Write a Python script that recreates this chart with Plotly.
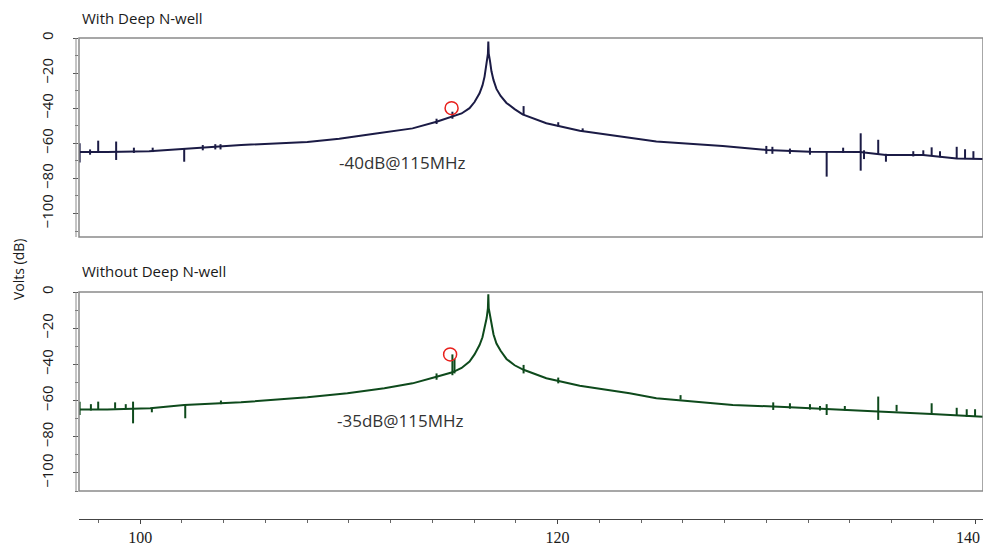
import plotly.graph_objects as go

# ---------------- data ----------------
# Top panel: With Deep N-well  (frequency MHz, level dB)
top_f = [97.07, 98.42, 100.43, 102.11, 104.84, 108.01, 109.54, 111.22, 112.18, 113.05,
         114.2, 114.96, 115.4, 115.78, 116.02, 116.26, 116.4, 116.5, 116.6, 116.66,
         116.68, 116.70, 116.76, 116.83, 116.93, 117.07, 117.27, 117.55, 117.94, 118.32,
         119.46, 121.06, 123.45, 124.73, 127.91, 130.01, 132.09, 134.48,
         135.73, 137.51, 139.12, 140.38]
top_db = [-65, -65, -64.5, -63.2, -61, -59.2, -57.4, -54.5, -53, -51.5,
          -47.7, -45, -43, -40, -36.5, -31.5, -27, -22, -14, -9,
          -2, -9, -13, -19, -24, -29, -33, -37, -40.5, -43.5,
          -48.6, -52.8, -56.8, -59, -61.5, -63.8, -64.8, -65,
          -66.7, -66.7, -68.6, -69]
# spurs: frequency, low end, high end (dB)
top_spur_f = [97.1, 97.6, 97.99, 98.85, 99.7, 100.6, 102.11, 103.0, 103.6, 103.85,
              114.2, 114.96, 118.37, 120.03, 121.2,
              130.0, 130.29, 131.13, 132.09, 132.89, 133.68, 134.52, 134.68, 135.36,
              135.73, 137.04, 137.52, 137.92, 138.32, 139.12, 139.52, 139.92]
top_spur_lo = [-71, -66.5, -65.5, -69.5, -65.5, -65, -70.5, -64, -63.5, -63.5,
               -49, -46, -44, -50.5, -53.5,
               -66, -66, -66, -66.5, -79, -65.5, -75.6, -69, -66,
               -70.5, -67.5, -67, -67, -68, -68.6, -69, -69]
top_spur_hi = [-60, -63.5, -58.5, -59, -62.5, -62.5, -63.2, -61, -60.5, -60.5,
               -46, -42, -38.8, -48, -51.5,
               -61.5, -62, -63, -62.5, -64.8, -62.5, -54.3, -64, -58,
               -66, -64.5, -64, -62.3, -64.5, -62, -63.4, -64.5]

# Bottom panel: Without Deep N-well
bot_f = [97.07, 98.42, 99.62, 100.48, 102.11, 104.83, 108.01, 109.93, 111.7, 113.05,
         114.2, 114.96, 115.4, 115.78, 116.02, 116.26, 116.4, 116.5, 116.6, 116.66,
         116.68, 116.70, 116.76, 116.83, 116.93, 117.07, 117.27, 117.55, 117.94, 118.37,
         119.46, 121.06, 123.45, 124.73, 128.39, 131.13, 132.89,
         135.35, 137.92, 140.38]
bot_db = [-65, -65, -64.5, -64.3, -62.4, -61, -58.2, -56, -53.2, -50.5,
          -46.8, -44.4, -42, -38.5, -34.5, -29.3, -25, -20, -14.4, -9,
          -1.3, -9, -13, -18.5, -23.5, -28.5, -32.5, -37, -40.5, -43,
          -47.7, -51.8, -56, -58.7, -62.4, -63.7, -64.5,
          -66, -67.4, -69]
bot_spur_f = [97.1, 97.64, 97.99, 98.8, 99.31, 99.66, 100.56, 102.16, 103.87,
              114.2, 114.96, 115.06, 118.37, 120.03,
              125.89, 130.33, 131.13, 132.09, 132.57, 132.89, 133.76, 135.36, 136.24,
              137.92, 139.12, 139.6, 140.0]
bot_spur_lo = [-68, -65.5, -65, -64.5, -64.5, -72.6, -66.5, -69.8, -62,
               -48.5, -46, -45, -45, -50.5,
               -59.5, -65.2, -64.5, -65, -65.5, -68, -65.5, -70.7, -66,
               -67.5, -68.5, -69, -69]
bot_spur_hi = [-60.6, -62, -60.6, -61, -62, -60.6, -64.3, -62.4, -60,
               -45, -34.5, -37, -40.3, -47.3,
               -57, -61, -61.5, -62, -63, -62, -63, -57.8, -62.4,
               -61.5, -64, -64.8, -64.8]

marker_f = [114.92, 114.85]
marker_db = [-40, -34.5]
notes = ["-40dB@115MHz", "-35dB@115MHz"]
note_f = [112.57, 112.47]
note_db = [-71.2, -71.3]
panel_titles = ["With Deep N-well", "Without Deep N-well"]

x_tickvals = [100, 120, 140]
x_ticklabels = ["100", "120", "140"]
x_range = [97.07, 140.38]
top_range = [-113.4, 0]
bot_range = [-110, 0]

TOP_COL = "#1b1b45"
BOT_COL = "#0e4a1c"

def spur_xy(f, lo, hi):
    xs, ys = [], []
    for a, b, c in zip(f, lo, hi):
        xs += [a, a, None]
        ys += [b, c, None]
    return xs, ys

fig = go.Figure()
fig.add_trace(go.Scatter(x=top_f, y=top_db, mode="lines", line=dict(color=TOP_COL, width=2),
                         yaxis="y", showlegend=False, hoverinfo="skip"))
sx, sy = spur_xy(top_spur_f, top_spur_lo, top_spur_hi)
fig.add_trace(go.Scatter(x=sx, y=sy, mode="lines", line=dict(color=TOP_COL, width=2),
                         yaxis="y", showlegend=False, hoverinfo="skip"))
fig.add_trace(go.Scatter(x=bot_f, y=bot_db, mode="lines", line=dict(color=BOT_COL, width=2),
                         yaxis="y2", showlegend=False, hoverinfo="skip"))
sx, sy = spur_xy(bot_spur_f, bot_spur_lo, bot_spur_hi)
fig.add_trace(go.Scatter(x=sx, y=sy, mode="lines", line=dict(color=BOT_COL, width=2),
                         yaxis="y2", showlegend=False, hoverinfo="skip"))
# red circles
fig.add_trace(go.Scatter(x=[marker_f[0]], y=[marker_db[0]], mode="markers", yaxis="y",
                         marker=dict(symbol="circle-open", size=13, color="#e8201c",
                                     line=dict(width=1.5, color="#e8201c")),
                         showlegend=False, hoverinfo="skip"))
fig.add_trace(go.Scatter(x=[marker_f[1]], y=[marker_db[1]], mode="markers", yaxis="y2",
                         marker=dict(symbol="circle-open", size=13, color="#e8201c",
                                     line=dict(width=1.5, color="#e8201c")),
                         showlegend=False, hoverinfo="skip"))

H = 546
plot_top, plot_bot = 38, 519
ph = plot_bot - plot_top
def py(p):
    return (plot_bot - p) / ph

yax_common = dict(showgrid=False, zeroline=False, showline=False, ticks="outside", ticklen=5,
                  tickcolor="#555", dtick=20, tick0=0, tickangle=-90, automargin=False,
                  tickfont=dict(family="Open Sans", size=15, color="#1a1a1a"),
                  ticklabelstandoff=14,
                  minor=dict(ticks="outside", ticklen=3, dtick=10, tickcolor="#777"))

XFONT = dict(family="Liberation Sans Narrow", size=16, color="#1a1a1a")
# the last label sits at the right edge of the page; it is drawn as a right-aligned text
shown_labels = x_ticklabels[:-1] + [""]

fig.update_layout(
    width=983, height=H,
    margin=dict(l=79, r=0, t=plot_top, b=H - plot_bot, autoexpand=False),
    paper_bgcolor="white", plot_bgcolor="white",
    xaxis=dict(range=x_range, anchor="free", position=0, showgrid=False, zeroline=False,
               automargin=False, ticklabeloverflow="allow",
               showline=True, linecolor="#444", linewidth=1, ticks="outside", ticklen=4,
               tickcolor="#444", tickvals=x_tickvals, ticktext=shown_labels,
               minor=dict(ticks="outside", ticklen=3, dtick=2, tick0=0, tickcolor="#666"),
               tickfont=XFONT),
    yaxis=dict(domain=[py(237), 1.0], range=top_range, **yax_common),
    yaxis2=dict(domain=[py(491), py(292)], range=bot_range, **yax_common),
)

shapes = []
for yr in ["y domain", "y2 domain"]:
    shapes.append(dict(type="rect", xref="paper", yref=yr, x0=0, x1=1.0, y0=0, y1=1,
                       line=dict(color="#8a8a8a", width=1.5)))
    shapes.append(dict(type="line", xref="paper", yref=yr, x0=-3 / 904, x1=-3 / 904, y0=0, y1=1,
                       line=dict(color="#8a8a8a", width=1)))
fig.update_layout(shapes=shapes)

ann = []
ann.append(dict(text=panel_titles[0], xref="paper", yref="paper", x=0, xshift=1, y=py(18),
                xanchor="left", yanchor="middle", showarrow=False,
                font=dict(family="Open Sans", size=15, color="#1a1a1a")))
ann.append(dict(text=panel_titles[1], xref="paper", yref="paper", x=0, xshift=1, y=py(271),
                xanchor="left", yanchor="middle", showarrow=False,
                font=dict(family="Open Sans", size=15, color="#1a1a1a")))
ann.append(dict(text=notes[0], x=note_f[0], y=note_db[0], xref="x", yref="y", showarrow=False,
                font=dict(family="Open Sans", size=17, color="#333333")))
ann.append(dict(text=notes[1], x=note_f[1], y=note_db[1], xref="x", yref="y2", showarrow=False,
                font=dict(family="Open Sans", size=17, color="#333333")))
ann.append(dict(text="Volts (dB)", xref="paper", yref="paper", x=(18 - 79) / 904, y=py(270),
                textangle=-90, showarrow=False, xanchor="center", yanchor="middle",
                font=dict(family="Open Sans", size=14, color="#1a1a1a")))
ann.append(dict(text=x_ticklabels[-1], xref="paper", yref="paper", x=1, xshift=-1, y=py(537),
                xanchor="right", yanchor="middle", showarrow=False, font=XFONT))
fig.update_layout(annotations=ann)

fig.write_html("out.html", config={"displayModeBar": False},
               post_script="document.body.style.margin='0';document.body.style.overflow='hidden';")
